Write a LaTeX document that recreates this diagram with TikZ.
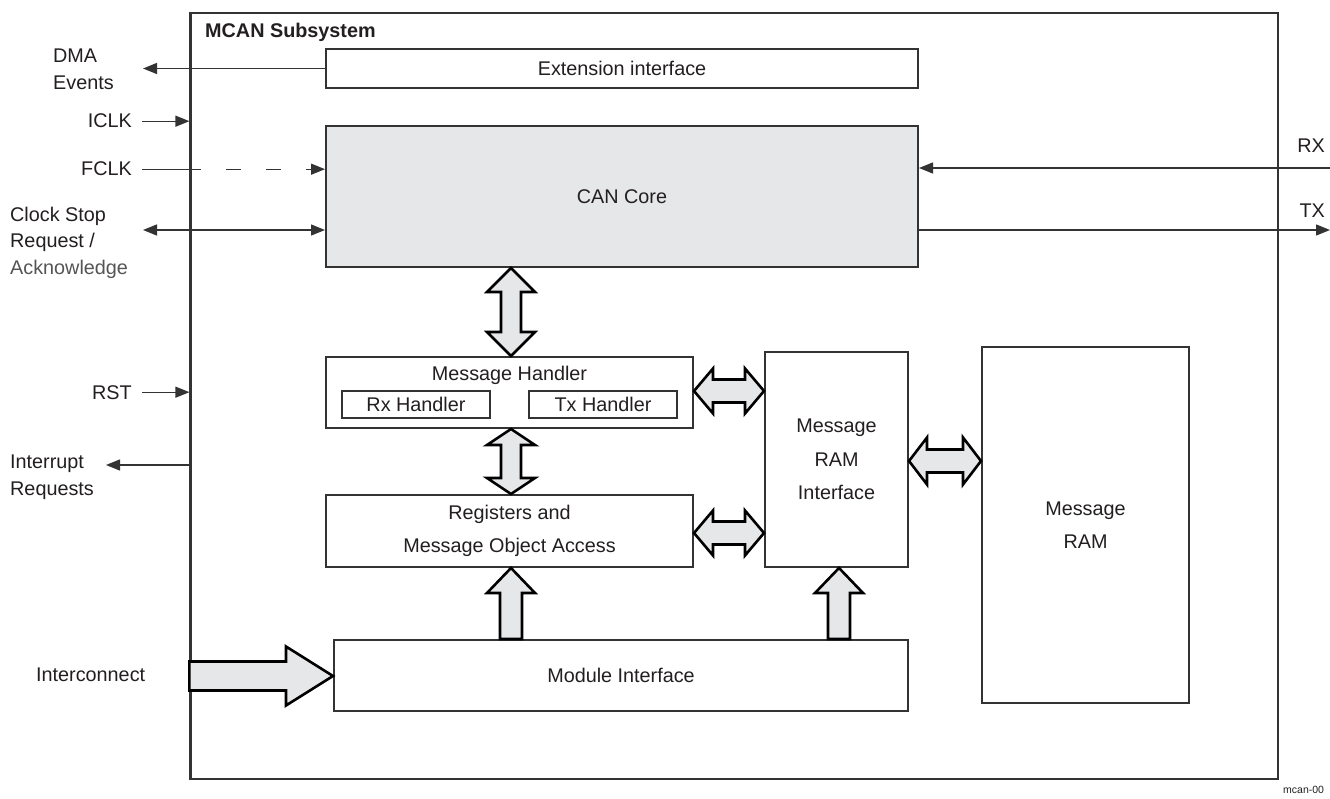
\documentclass[tikz,border=0pt]{standalone}
\usepackage{fontspec}
\setmainfont{Liberation Sans}
\usetikzlibrary{arrows.meta,calc}
\definecolor{linec}{HTML}{333333}
\definecolor{txtc}{HTML}{231F20}
\definecolor{fillg}{HTML}{E6E7E8}
\definecolor{ackc}{HTML}{555555}
\newcommand\boxfnt{\fontsize{19.8}{33.5}\selectfont}
\newcommand\lblfnt{\fontsize{19.8}{26.5}\selectfont}
% vertical double block arrow: top, bottom, head length, shaft half width, head half width
\newcommand\vdbl[5]{\draw[fat] let \p1=(#1), \p2=(#2) in
  (\x1,\y1) -- (\x1+#5pt,\y1-#3pt) -- (\x1+#4pt,\y1-#3pt) -- (\x1+#4pt,\y2+#3pt) -- (\x1+#5pt,\y2+#3pt)
  -- (\x1,\y2) -- (\x1-#5pt,\y2+#3pt) -- (\x1-#4pt,\y2+#3pt) -- (\x1-#4pt,\y1-#3pt) -- (\x1-#5pt,\y1-#3pt) -- cycle;}
% horizontal double block arrow: left, right, head length, shaft half width, head half width
\newcommand\hdbl[5]{\draw[fat] let \p1=(#1), \p2=(#2) in
  (\x1,\y1) -- (\x1+#3pt,\y1+#5pt) -- (\x1+#3pt,\y1+#4pt) -- (\x2-#3pt,\y1+#4pt) -- (\x2-#3pt,\y1+#5pt)
  -- (\x2,\y1) -- (\x2-#3pt,\y1-#5pt) -- (\x2-#3pt,\y1-#4pt) -- (\x1+#3pt,\y1-#4pt) -- (\x1+#3pt,\y1-#5pt) -- cycle;}
% upward block arrow: bottom, tip, head length, shaft half width, head half width
\newcommand\upar[5]{\draw[fat] let \p1=(#1), \p2=(#2) in
  (\x1-#4pt,\y1) -- (\x1-#4pt,\y2-#3pt) -- (\x1-#5pt,\y2-#3pt) -- (\x1,\y2) -- (\x1+#5pt,\y2-#3pt)
  -- (\x1+#4pt,\y2-#3pt) -- (\x1+#4pt,\y1) -- cycle;}
% rightward block arrow: start, tip, head length, shaft half width, head half width
\newcommand\rar[5]{\draw[fat] let \p1=(#1), \p2=(#2) in
  (\x1,\y1+#4pt) -- (\x2-#3pt,\y1+#4pt) -- (\x2-#3pt,\y1+#5pt) -- (\x2,\y1) -- (\x2-#3pt,\y1-#5pt)
  -- (\x2-#3pt,\y1-#4pt) -- (\x1,\y1-#4pt) -- cycle;}
\begin{document}
\begin{tikzpicture}[x=1pt,y=-1pt,
  box/.style={draw=linec, line width=2pt, inner sep=0pt, align=center, font=\boxfnt, text=txtc},
  sbox/.style={draw=linec, line width=1.1pt, inner sep=0pt, font=\boxfnt, text=txtc},
  lbl/.style={inner sep=0pt, font=\lblfnt, text=txtc},
  sig/.style={draw=linec, line width=1.3pt},
  fat/.style={draw=black, line width=2.6pt, fill=fillg, miter limit=4},
  >={Triangle[length=14pt,width=11pt]}]
\useasboundingbox (0,0) rectangle (1330,799);
\fill[white] (0,0) rectangle (1330,799);

% boxes
\node[box, line width=2.2pt, minimum width=1087.5pt, minimum height=766pt] (outer) at (734.25,396) {};
\node[lbl, anchor=base west, font=\lblfnt\bfseries] (title) at (205,38) {MCAN Subsystem};
\node[box, minimum width=592pt, minimum height=39pt] (ext) at (622,68.5) {Extension interface};
\node[box, fill=fillg, minimum width=592pt, minimum height=141pt] (core) at (622,196.5) {CAN Core};
\node[box, minimum width=367pt, minimum height=71pt] (mh) at (509.5,392.5) {};
\node[lbl, anchor=base] (mhl) at (509.5,381) {Message Handler};
\node[sbox, minimum width=148pt, minimum height=27pt] (rxh) at (416,404.5) {Rx Handler};
\node[sbox, minimum width=148pt, minimum height=27pt] (txh) at (603,404.5) {Tx Handler};
\node[box, minimum width=367pt, minimum height=72pt] (reg) at (509.5,531) {Registers and\\Message Object Access};
\node[box, minimum width=143pt, minimum height=215pt] (mri) at (836.5,459.5) {Message\\RAM\\Interface};
\node[box, minimum width=207pt, minimum height=356pt] (mram) at (1085.5,525) {Message\\RAM};
\node[box, minimum width=574pt, minimum height=71pt] (modi) at (621,675.5) {Module Interface};

% outside labels
\node[lbl, anchor=north west, align=left] (dma) at (53,48.8) {DMA\\Events};
\node[lbl, anchor=base east] (iclk) at (132,128) {ICLK};
\node[lbl, anchor=base east] (fclk) at (132,176) {FCLK};
\node[lbl, anchor=north west, align=left] (csr) at (10,206.5) {Clock Stop\\Request /\\{\color{ackc}Acknowledge}};
\node[lbl, anchor=base east] (rst) at (132,399) {RST};
\node[lbl, anchor=north west, align=left] (irq) at (10,454.8) {Interrupt\\Requests};
\node[lbl, anchor=base west] (icn) at (36,681) {Interconnect};
\node[lbl, anchor=base east] (rx) at (1325,153) {RX};
\node[lbl, anchor=base east] (tx) at (1325,218) {TX};
\node[lbl, anchor=base west, font=\fontsize{10.5}{12}\selectfont] (fig) at (1283,793) {mcan-00};

% free ends of signal lines
\coordinate (dmaend) at (143,68.5);
\coordinate (csend) at (143,230);
\coordinate (rxin) at (1330,168);
\coordinate (txout) at (1330,230);
\coordinate (irqend) at (106,465);

% signal lines
\draw[sig,->] (ext.west) -- (dmaend);
\draw[sig,->] ([xshift=10pt]iclk.east) -- (iclk.east -| outer.west);
\draw[sig] ([xshift=10pt]fclk.east) -- (fclk.east -| outer.west);
\draw[sig,->,dash pattern=on 15pt off 25pt, dash phase=3pt] (fclk.east -| outer.west) -- (fclk.east -| core.west);
\draw[sig,<->] (csend) -- (csend -| core.west);
\draw[sig,->] (rxin) -- (rxin -| core.east);
\draw[sig,->] (txout -| core.east) -- (txout);
\draw[sig,->] ([xshift=10pt]rst.east) -- (rst.east -| outer.west);
\draw[sig,->] (irqend -| outer.west) -- (irqend);

% block arrows
\coordinate (ax1) at (511,0);
\coordinate (ax2) at (839,0);
\coordinate (ay1) at (0,391);
\coordinate (ay2) at (0,533);
\coordinate (ay3) at (0,461);
\coordinate (ay4) at (0,676);
\vdbl{ax1 |- core.south}{ax1 |- mh.north}{24}{10}{24}
\vdbl{ax1 |- mh.south}{ax1 |- reg.north}{16}{10}{24}
\hdbl{mh.east |- ay1}{mri.west |- ay1}{19}{11.5}{22.5}
\hdbl{reg.east |- ay2}{mri.west |- ay2}{19}{11.5}{22.5}
\hdbl{mri.east |- ay3}{mram.west |- ay3}{18}{11.5}{23.5}
\upar{ax1 |- modi.north}{ax1 |- reg.south}{25}{11}{24}
\upar{ax2 |- modi.north}{ax2 |- mri.south}{25}{11}{24}
\rar{outer.west |- ay4}{modi.west |- ay4}{47}{14.5}{29.5}
\end{tikzpicture}
\end{document}
